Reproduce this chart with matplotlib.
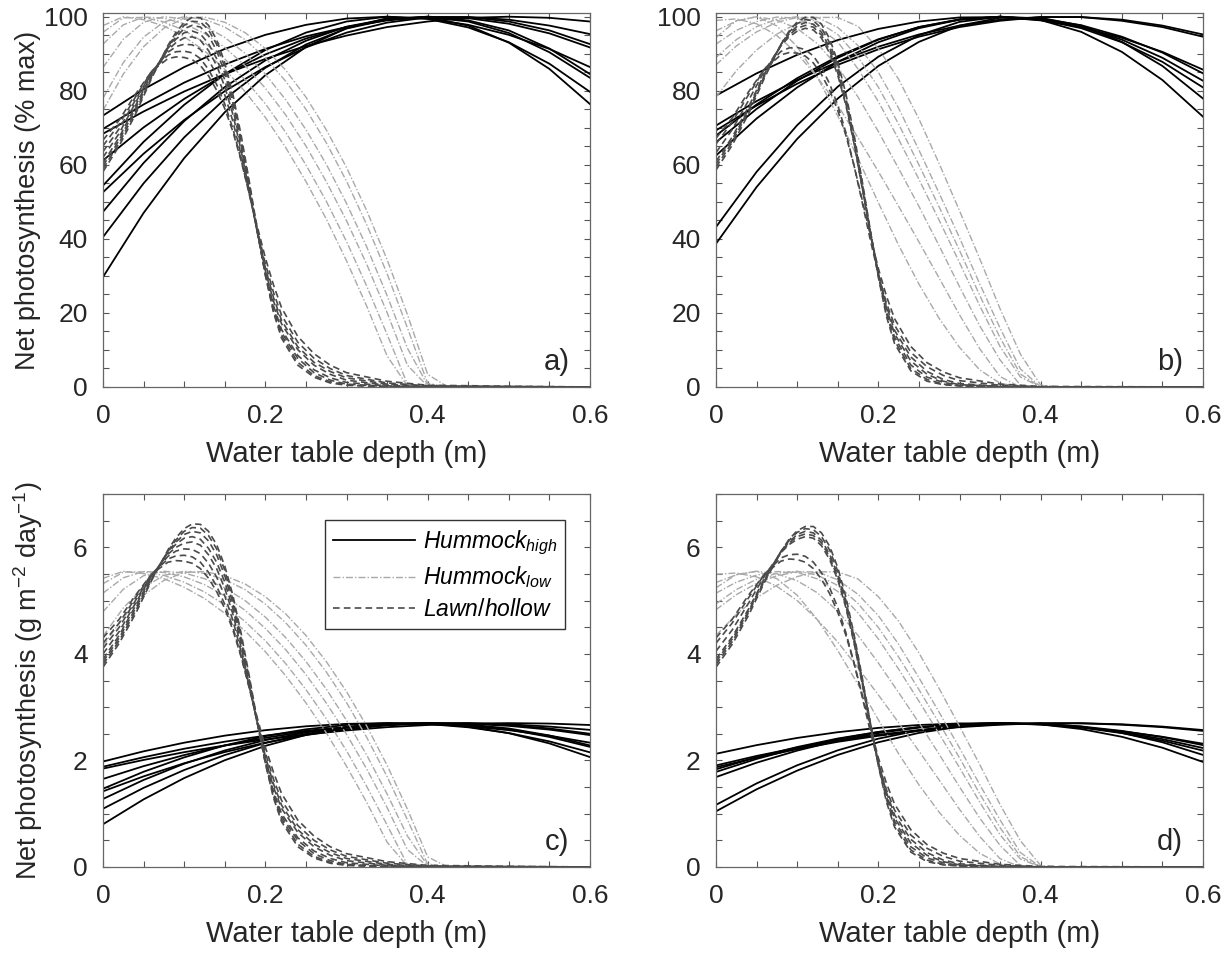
import matplotlib
matplotlib.use("Agg")
import matplotlib.pyplot as plt
from matplotlib.ticker import MultipleLocator, FixedLocator, FixedFormatter

plt.rcParams['font.family'] = ['Liberation Sans', 'DejaVu Sans']
plt.rcParams['mathtext.fontset'] = 'custom'
plt.rcParams['mathtext.rm'] = 'Liberation Sans'
plt.rcParams['mathtext.it'] = 'Liberation Sans:italic'

# ---------------- data ----------------
# water table depth grids (m)
DEPTH_HIGH = [0.0, 0.05, 0.1, 0.15, 0.2, 0.25, 0.3, 0.35, 0.4, 0.45, 0.5, 0.55, 0.6]
DEPTH_LOW = [0.0, 0.025, 0.05, 0.075, 0.1, 0.125, 0.15, 0.175, 0.2, 0.225, 0.25,
             0.275, 0.3, 0.325, 0.35, 0.375, 0.4, 0.425, 0.6]
DEPTH_LAWN = [0.0, 0.02, 0.04, 0.06, 0.08, 0.09, 0.10, 0.11, 0.12, 0.13, 0.14, 0.15,
              0.16, 0.17, 0.18, 0.19, 0.20, 0.21, 0.22, 0.24, 0.26, 0.28, 0.30, 0.35,
              0.40, 0.60]

# group maxima (g m-2 day-1) used to move between % max and absolute panels
HIGH_MAX = 2.7
LOW_MAX = 5.55
LAWN_MAX_C = 6.45
LAWN_MAX_D = 6.4

# Hummock_high, panels a/c (% max)
HIGH_AC = [
    [73.3, 80.4, 86.4, 91.3, 95.1, 97.8, 99.5, 100, 99.5, 97.8, 95.1, 91.3, 86.4],
    [69.7, 76.3, 82.2, 87.1, 91.3, 94.7, 97.2, 99.0, 99.9, 99.9, 99.2, 97.6, 95.3],
    [68.4, 74.4, 79.8, 84.5, 88.6, 92.1, 94.9, 97.2, 98.7, 99.7, 100, 99.7, 98.7],
    [61.2, 70.1, 77.8, 84.4, 89.8, 94.1, 97.2, 99.2, 100, 99.6, 98.1, 95.5, 91.7],
    [54.4, 66.2, 76.2, 84.5, 91.0, 95.7, 98.7, 100, 99.4, 97.1, 93.1, 87.3, 79.7],
    [52.6, 63.0, 72.1, 79.9, 86.4, 91.7, 95.7, 98.4, 99.8, 99.9, 98.7, 96.3, 92.6],
    [47.3, 60.5, 71.8, 81.0, 88.2, 93.5, 97.3, 99.4, 100, 99.0, 96.3, 91.4, 84.5],
    [40.5, 55.0, 67.4, 77.8, 86.2, 92.5, 96.8, 99.2, 99.9, 98.7, 95.6, 90.4, 83.5],
    [29.7, 47.0, 61.8, 74.2, 84.2, 91.8, 96.9, 99.6, 99.8, 97.6, 93.0, 85.9, 76.4],
]
# Hummock_high, panels b/d (% max)
HIGH_BD = [
    [78.7, 84.7, 89.7, 93.7, 96.7, 98.7, 99.8, 99.9, 99.0, 97.2, 94.3, 90.5, 85.7],
    [70.6, 77.2, 82.9, 87.8, 91.9, 95.2, 97.6, 99.2, 99.9, 99.9, 98.9, 97.2, 94.6],
    [69.3, 76.0, 81.9, 87.0, 91.2, 94.6, 97.2, 98.9, 99.9, 99.9, 99.2, 97.6, 95.2],
    [67.9, 76.3, 83.4, 89.3, 93.9, 97.2, 99.2, 100, 99.5, 97.7, 94.6, 90.3, 84.7],
    [66.1, 75.1, 82.7, 88.9, 93.8, 97.2, 99.3, 100, 99.3, 97.2, 93.8, 88.9, 82.7],
    [62.5, 72.5, 80.9, 87.8, 93.1, 96.9, 99.2, 100, 99.2, 96.9, 93.1, 87.8, 80.9],
    [43.2, 58.1, 70.7, 81.1, 89.2, 95.0, 98.6, 100, 99.1, 95.9, 90.5, 82.9, 73.0],
    [38.7, 54.0, 67.0, 77.9, 86.7, 93.2, 97.6, 99.7, 99.7, 97.6, 93.2, 86.7, 77.9],
]
# Hummock_low, panels a/c (% max)
LOW_AC = [
    [97.6, 100, 99.2, 97.5, 94.6, 90.8, 85.8, 79.8, 72.8, 64.7, 55.5, 45.4, 34.1, 21.8, 8.4, 0.3, 0, 0, 0],
    [95.8, 99.7, 99.8, 98.6, 96.3, 93.0, 88.6, 83.0, 76.5, 68.8, 60.0, 50.2, 39.3, 27.2, 14.2, 0.8, 0, 0, 0],
    [92.6, 97.8, 99.9, 99.6, 98.1, 95.5, 91.7, 86.8, 80.7, 73.5, 65.1, 55.5, 44.9, 33.1, 20.1, 5.9, 0.2, 0, 0],
    [86.3, 93.9, 98.5, 100, 99.4, 97.5, 94.4, 90.1, 84.5, 77.6, 69.5, 60.2, 49.6, 37.8, 24.7, 10.5, 0.5, 0, 0],
    [78.0, 87.6, 94.5, 98.6, 100, 99.3, 97.2, 93.8, 88.9, 82.6, 75.0, 66.0, 55.6, 43.8, 30.6, 16.0, 1.0, 0, 0],
    [74.7, 84.5, 91.9, 96.9, 99.6, 99.9, 98.5, 95.7, 91.4, 85.6, 78.3, 69.5, 59.3, 47.6, 34.4, 19.6, 3.4, 0, 0],
]
# Hummock_low, panels b/d (% max)
LOW_BD = [
    [94.4, 98.9, 100, 97.5, 91.9, 83.6, 73.2, 61.7, 49.8, 38.3, 27.8, 18.5, 10.7, 4.6, 1.0, 0, 0, 0, 0],
    [99.0, 99.4, 98.1, 94.9, 90.1, 83.6, 76.1, 67.3, 58.2, 48.8, 39.2, 29.4, 19.5, 10.3, 2.8, 0, 0, 0, 0],
    [96.2, 98.8, 100, 99.1, 96.8, 92.7, 86.5, 78.3, 69.0, 59.0, 48.8, 38.1, 27.1, 16.5, 7.3, 0.5, 0, 0, 0],
    [92.6, 96.3, 98.7, 99.9, 99.6, 97.4, 93.2, 85.9, 77.1, 66.9, 56.1, 45.0, 33.6, 21.9, 10.9, 2.7, 0, 0, 0],
    [87.0, 92.1, 95.9, 98.5, 99.8, 99.8, 97.1, 92.2, 85.0, 75.3, 64.0, 52.3, 40.3, 27.8, 15.9, 4.9, 0, 0, 0],
    [78.3, 85.4, 91.0, 95.3, 98.2, 99.8, 99.8, 97.4, 91.4, 83.1, 72.4, 60.3, 47.6, 34.6, 21.1, 8.9, 0.5, 0, 0],
    [89.0, 93.8, 97.3, 99.3, 100, 98.7, 95.2, 89.1, 81.0, 71.0, 60.0, 48.6, 36.9, 24.7, 13.3, 3.5, 0, 0, 0],
]
# Lawn/hollow, panel c (g m-2 day-1)
LAWN_C = [
    [3.75, 4.2, 4.75, 5.38, 5.95, 6.18, 6.35, 6.44, 6.43, 6.3, 6.05, 5.65, 5.1, 4.4, 3.6, 2.75, 1.95, 1.3, 0.85, 0.38, 0.17, 0.07, 0.03, 0, 0, 0],
    [3.8, 4.25, 4.8, 5.4, 5.93, 6.14, 6.3, 6.37, 6.36, 6.22, 5.97, 5.57, 5.02, 4.33, 3.55, 2.72, 1.95, 1.33, 0.9, 0.43, 0.2, 0.09, 0.04, 0, 0, 0],
    [3.85, 4.3, 4.85, 5.42, 5.92, 6.1, 6.24, 6.3, 6.27, 6.12, 5.86, 5.47, 4.95, 4.28, 3.52, 2.72, 1.98, 1.38, 0.95, 0.5, 0.25, 0.12, 0.05, 0.01, 0, 0],
    [3.9, 4.35, 4.9, 5.45, 5.9, 6.06, 6.17, 6.2, 6.15, 5.98, 5.72, 5.35, 4.85, 4.2, 3.47, 2.7, 2.0, 1.42, 1.0, 0.55, 0.3, 0.16, 0.08, 0.02, 0, 0],
    [4.0, 4.42, 4.95, 5.47, 5.87, 6.0, 6.08, 6.1, 6.04, 5.86, 5.6, 5.23, 4.75, 4.13, 3.43, 2.7, 2.03, 1.5, 1.1, 0.65, 0.38, 0.22, 0.12, 0.03, 0, 0],
    [4.1, 4.5, 5.0, 5.48, 5.83, 5.93, 5.97, 5.96, 5.88, 5.7, 5.44, 5.09, 4.63, 4.05, 3.4, 2.72, 2.08, 1.56, 1.16, 0.7, 0.43, 0.27, 0.16, 0.05, 0.01, 0],
    [4.2, 4.58, 5.05, 5.5, 5.78, 5.84, 5.85, 5.82, 5.72, 5.53, 5.27, 4.93, 4.5, 3.97, 3.37, 2.75, 2.15, 1.65, 1.25, 0.78, 0.5, 0.32, 0.2, 0.07, 0.02, 0],
    [4.3, 4.65, 5.1, 5.5, 5.72, 5.75, 5.74, 5.7, 5.6, 5.42, 5.17, 4.85, 4.45, 3.95, 3.38, 2.8, 2.25, 1.78, 1.38, 0.88, 0.58, 0.38, 0.25, 0.1, 0.03, 0],
]
# Lawn/hollow, panel d (g m-2 day-1)
LAWN_D = [
    [3.75, 4.18, 4.72, 5.35, 5.92, 6.15, 6.31, 6.39, 6.39, 6.27, 6.02, 5.62, 5.07, 4.37, 3.57, 2.72, 1.9, 1.22, 0.75, 0.28, 0.1, 0.04, 0.02, 0, 0, 0],
    [3.8, 4.23, 4.77, 5.38, 5.92, 6.13, 6.28, 6.35, 6.33, 6.2, 5.95, 5.55, 5.0, 4.31, 3.52, 2.7, 1.92, 1.27, 0.8, 0.32, 0.13, 0.05, 0.02, 0, 0, 0],
    [3.9, 4.32, 4.84, 5.42, 5.92, 6.1, 6.24, 6.3, 6.27, 6.13, 5.87, 5.48, 4.95, 4.28, 3.5, 2.7, 1.95, 1.32, 0.86, 0.38, 0.17, 0.08, 0.03, 0, 0, 0],
    [3.85, 4.28, 4.8, 5.4, 5.9, 6.08, 6.2, 6.25, 6.22, 6.08, 5.82, 5.43, 4.9, 4.23, 3.46, 2.68, 1.96, 1.36, 0.92, 0.45, 0.22, 0.1, 0.04, 0.01, 0, 0],
    [4.2, 4.58, 5.05, 5.5, 5.8, 5.86, 5.87, 5.83, 5.72, 5.52, 5.24, 4.87, 4.4, 3.83, 3.2, 2.55, 1.95, 1.45, 1.07, 0.6, 0.35, 0.2, 0.11, 0.03, 0, 0],
    [4.3, 4.65, 5.1, 5.5, 5.74, 5.78, 5.77, 5.72, 5.6, 5.4, 5.13, 4.78, 4.35, 3.83, 3.24, 2.63, 2.05, 1.57, 1.18, 0.7, 0.42, 0.26, 0.16, 0.05, 0.01, 0],
    [4.05, 4.45, 4.95, 5.47, 5.9, 6.05, 6.15, 6.2, 6.17, 6.03, 5.77, 5.39, 4.87, 4.21, 3.45, 2.67, 1.97, 1.4, 0.98, 0.52, 0.27, 0.13, 0.06, 0.01, 0, 0],
]

LEGEND_LABELS = [r'$Hummock_{high}$', r'$Hummock_{low}$', r'$Lawn/hollow$']
XLABEL = 'Water table depth (m)'
YLABEL_TOP = 'Net photosynthesis (% max)'
YLABEL_BOTTOM = r'Net photosynthesis (g m$^{-2}$ day$^{-1}$)'
PANEL_TAGS = ['a)', 'b)', 'c)', 'd)']
X_TICKS = [0, 0.2, 0.4, 0.6]
X_TICKLABELS = ['0', '0.2', '0.4', '0.6']

# ---------------- styles ----------------
STY_HIGH = dict(color='black', lw=1.3, ls='-')
STY_LOW = dict(color='#a9a9a9', lw=1.0, ls=(0, (5, 1.5, 1, 1.5)))
STY_LAWN = dict(color='#4a4a4a', lw=1.2, ls=(0, (4, 2.5)))

W, H = 1231, 957
fig = plt.figure(figsize=(W / 100, H / 100), dpi=100)


def axes_px(l, t, r, b):
    return fig.add_axes([l / W, 1 - b / H, (r - l) / W, (b - t) / H])


def scale(rows, factor):
    return [[v * factor for v in row] for row in rows]


def setup(ax, ymax, major, minor):
    ax.set_xlim(0, 0.6)
    ax.set_ylim(0, ymax)
    ax.xaxis.set_major_locator(FixedLocator(X_TICKS))
    ax.xaxis.set_major_formatter(FixedFormatter(X_TICKLABELS))
    ax.xaxis.set_minor_locator(MultipleLocator(0.05))
    ax.yaxis.set_major_locator(MultipleLocator(major))
    ax.yaxis.set_minor_locator(MultipleLocator(minor))
    ax.tick_params(which='both', direction='in', top=True, right=True,
                   length=4.5, width=0.8, color='#555555')
    ax.tick_params(axis='both', labelsize=19, labelcolor='#262626')
    ax.tick_params(axis='x', pad=12)
    ax.tick_params(axis='y', pad=11)
    for sp in ax.spines.values():
        sp.set_color('#666666')
        sp.set_linewidth(0.9)
    ax.set_xlabel(XLABEL, fontsize=21, color='#262626', labelpad=9)


def draw(ax, high, low, lawn):
    hs = []
    for i, row in enumerate(high):
        l, = ax.plot(DEPTH_HIGH, row, **STY_HIGH)
        if i == 0:
            hs.append(l)
    for i, row in enumerate(low):
        l, = ax.plot(DEPTH_LOW, row, **STY_LOW)
        if i == 0:
            hs.append(l)
    for i, row in enumerate(lawn):
        l, = ax.plot(DEPTH_LAWN, row, **STY_LAWN)
        if i == 0:
            hs.append(l)
    return hs


ax_a = axes_px(103, 13, 590, 387)
ax_b = axes_px(716, 13, 1203, 387)
ax_c = axes_px(103, 494, 590, 867)
ax_d = axes_px(716, 494, 1203, 867)

draw(ax_a, HIGH_AC, LOW_AC, scale(LAWN_C, 100.0 / LAWN_MAX_C))
draw(ax_b, HIGH_BD, LOW_BD, scale(LAWN_D, 100.0 / LAWN_MAX_D))
handles = draw(ax_c, scale(HIGH_AC, HIGH_MAX / 100.0), scale(LOW_AC, LOW_MAX / 100.0), LAWN_C)
draw(ax_d, scale(HIGH_BD, HIGH_MAX / 100.0), scale(LOW_BD, LOW_MAX / 100.0), LAWN_D)

for ax in (ax_a, ax_b):
    setup(ax, 101, 20, 5)
for ax in (ax_c, ax_d):
    setup(ax, 7, 2, 0.5)

ax_a.set_ylabel(YLABEL_TOP, fontsize=19.5, color='#262626', va='center')
ax_c.set_ylabel(YLABEL_BOTTOM, fontsize=19.5, color='#262626', va='center')
ax_a.yaxis.set_label_coords(-0.153, 0.5)
ax_c.yaxis.set_label_coords(-0.153, 0.5)

for ax, tag in zip((ax_a, ax_b, ax_c, ax_d), PANEL_TAGS):
    ax.text(0.932, 0.067, tag, transform=ax.transAxes, fontsize=21,
            ha='center', va='center', color='#262626')

leg = ax_c.legend(handles, LEGEND_LABELS, loc='upper right',
                  bbox_to_anchor=(0.949, 0.93), fontsize=16.5, frameon=True,
                  fancybox=False, edgecolor='#333333', framealpha=1,
                  handlelength=3.55, borderpad=0.35, labelspacing=0.35,
                  handletextpad=0.35, borderaxespad=0)
leg.get_frame().set_linewidth(1.0)

fig.savefig('out.png', dpi=100)
